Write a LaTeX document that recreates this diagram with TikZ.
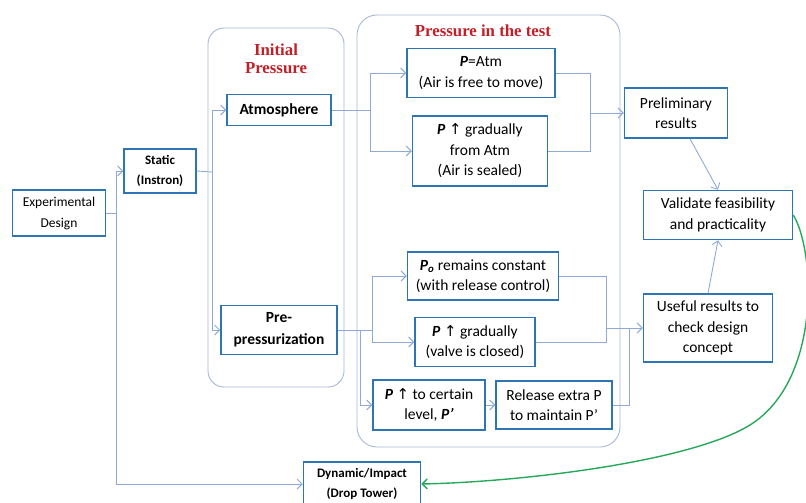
\documentclass[tikz,border=0pt]{standalone}
\usepackage{fontspec}
\setmainfont{Carlito}
\newfontfamily\titlefont{Liberation Serif}
\newfontfamily\symfont{DejaVu Sans}
\usetikzlibrary{arrows.meta}

\definecolor{boxc}{RGB}{46,117,182}
\definecolor{linkc}{RGB}{143,170,214}
\definecolor{groupc}{RGB}{165,184,214}
\definecolor{ttlred}{RGB}{192,32,40}
\definecolor{loopgreen}{RGB}{38,168,90}
\newcommand\pvar{\textbf{\textit{P}}}
\newcommand\uparr{{\symfont\fontsize{15}{15}\selectfont ↑}}
\tikzset{
  stage/.style={draw=boxc,line width=1.5pt,fill=white,align=center,inner sep=1pt,
    font=\fontsize{15.5}{20.5}\selectfont},
  smallstage/.style={stage,font=\fontsize{13}{20.5}\selectfont\bfseries},
  grp/.style={draw=groupc,line width=0.9pt,rounded corners=16pt},
  grptitle/.style={text=ttlred,align=center,font=\titlefont\bfseries\fontsize{16.8}{18}\selectfont},
  link/.style={draw=linkc,line width=0.9pt},
  flow/.style={link,-{Straight Barb[length=5pt,width=10pt]}},
  back/.style={draw=loopgreen,line width=1.4pt,-{Straight Barb[length=5pt,width=10pt]}},
}

\begin{document}
\begin{tikzpicture}[x=1pt,y=-1pt]
  \useasboundingbox (0,0) rectangle (806,503);
  \draw [grp] (208,28) rectangle (344,387);
  \draw [grp,rounded corners=20pt] (357,15) rectangle (620,447);
  \node [grptitle] (inittitle) at (276,59) {Initial\\Pressure};
  \node [grptitle] (testtitle) at (483,31) {Pressure in the test};

  \node [stage,font=\fontsize{13.5}{21}\selectfont,minimum width=93pt,minimum height=46pt]
    (design) at (59,213) {Experimental\\Design};
  \node [smallstage,minimum width=72pt,minimum height=44pt] (static) at (160,171) {Static\\(Instron)};
  \node [smallstage,minimum width=117pt,minimum height=44pt] (dynamic) at (362,484) {Dynamic/Impact\\(Drop Tower)};
  \node [stage,font=\fontsize{15.5}{21}\selectfont\bfseries,minimum width=104pt,minimum height=31pt]
    (atm) at (279,110) {Atmosphere};
  \node [stage,font=\fontsize{15.5}{22}\selectfont\bfseries,minimum width=116pt,minimum height=49pt]
    (prepress) at (279,330) {Pre-\\pressurization};

  \node [stage,minimum width=148pt,minimum height=49pt] (patm) at (481,73) {\pvar=Atm\\(Air is free to move)};
  \node [stage,minimum width=135pt,minimum height=70pt] (pgrad) at (480,151)
    {\pvar{} \uparr{} gradually\\from Atm\\(Air is sealed)};
  \node [stage,minimum width=151pt,minimum height=48pt] (pconst) at (483,276)
    {\pvar\textsubscript{\textbf{\textit{o}}} remains constant\\(with release control)};
  \node [stage,minimum width=120pt,minimum height=49pt] (pvalve) at (475,342)
    {\pvar{} \uparr{} gradually\\(valve is closed)};
  \node [stage,minimum width=112pt,minimum height=50pt] (plevel) at (429,405)
    {\pvar{} \uparr{} to certain\\level, \textbf{\textit{P’}}};
  \node [stage,minimum width=116pt,minimum height=48pt] (prelease) at (554,405)
    {Release extra P\\to maintain P’};

  \node [stage,minimum width=103pt,minimum height=50pt] (prelim) at (676,113) {Preliminary\\results};
  \node [stage,minimum width=149pt,minimum height=49pt] (validate) at (718,215)
    {Validate feasibility\\and practicality};
  \node [stage,minimum width=129pt,minimum height=68pt] (useful) at (708,328)
    {Useful results to\\check design\\concept};

  \coordinate (j1) at (116,213);
  \coordinate (j2) at (212,172);
  \coordinate (j3) at (370,110);
  \coordinate (j4) at (590,113);
  \coordinate (j5) at (372,330);
  \coordinate (j6) at (360,330);
  \coordinate (j7) at (606,328);
  \coordinate (j8) at (629,328);

  \draw [link] (design.east) -- (j1);
  \draw [flow] (j1) |- (static.west);
  \draw [flow] (j1) |- (dynamic.west);
  \draw [link] (static.east) -- (j2);
  \draw [flow] (j2) |- (atm.west);
  \draw [flow] (j2) |- (prepress.west);
  \draw [link] (atm.east) -- (j3);
  \draw [flow] (j3) |- (patm.west);
  \draw [flow] (j3) |- (pgrad.west);
  \draw [link] (patm.east) -| (j4);
  \draw [link] (pgrad.east) -| (j4);
  \draw [flow] (j4) -- (prelim.west);

  \draw [link] (prepress.east) -- (j5);
  \draw [flow] (j5) |- (pconst.west);
  \draw [flow] (j5) |- (pvalve.west);
  \draw [flow] (j6) |- (plevel.west);
  \draw [flow] (plevel.east) -- (prelease.west);
  \draw [link] (pconst.east) -| (j7);
  \draw [link] (pvalve.east) -| (j7);
  \draw [link] (prelease.east) -| (j8);
  \draw [flow] (j7) -- (useful.west);

  \draw [flow] ([xshift=14pt]prelim.south) -- (validate.north);
  \draw [flow] (useful.north) -- (validate.south);
  \draw [back] (validate.east) .. controls (815,250) and (822,380) .. (750,425)
    .. controls (690,462) and (520,482) .. (dynamic.east);
\end{tikzpicture}
\end{document}
